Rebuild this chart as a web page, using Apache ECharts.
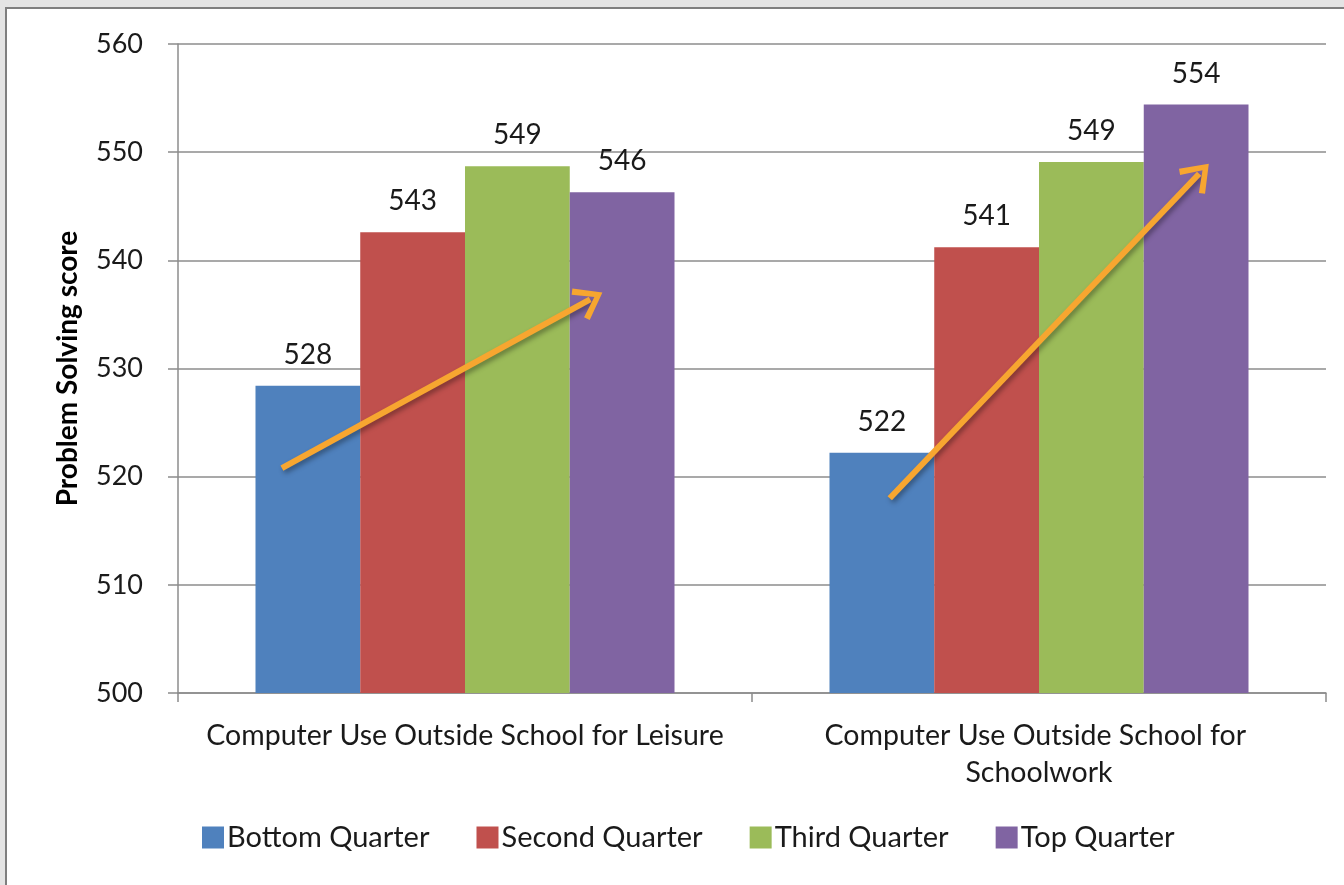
<!DOCTYPE html>
<html>
<head>
<meta charset="utf-8">
<script src="https://cdn.jsdelivr.net/npm/echarts@6/dist/echarts.min.js"></script>
<style>
  html, body { margin: 0; padding: 0; width: 1344px; height: 885px; overflow: hidden; background: #e4e4e4; }
  #frame { position: absolute; left: 5px; top: 7px; width: 1339px; height: 878px; background: #7f7f7f; }
  #chart { position: absolute; left: 7px; top: 9px; width: 1337px; height: 876px; background: #ffffff; }
</style>
</head>
<body>
<div id="frame"></div>
<div id="chart"></div>
<script>
const categories = ['Computer Use Outside School for Leisure', 'Computer Use Outside School for Schoolwork'];
const seriesNames = ['Bottom Quarter', 'Second Quarter', 'Third Quarter', 'Top Quarter'];
const bottomQuarter = [528.4, 522.2];
const secondQuarter = [542.6, 541.2];
const thirdQuarter = [548.7, 549.1];
const topQuarter = [546.3, 554.4];
const yTicks = [500, 510, 520, 530, 540, 550, 560];
// trend arrows: [start x (category units), start value], [end x, end value]
const arrowLeisure = [[0.181, 520.8], [0.718, 536.4]];
const arrowSchoolwork = [[1.240, 518.0], [1.779, 548.0]];

const colors = ['#4F81BD', '#C0504D', '#9BBB59', '#8064A2'];
const FONT = 'Lato';
const chart = echarts.init(document.getElementById('chart'));
const values = [bottomQuarter, secondQuarter, thirdQuarter, topQuarter];

const barSeries = seriesNames.map((name, i) => ({
  name: name,
  type: 'bar',
  xAxisIndex: 0,
  yAxisIndex: 0,
  data: values[i],
  barGap: '0%',
  barCategoryGap: '27%',
  itemStyle: { color: colors[i] },
  label: {
    show: true,
    position: 'top',
    distance: 17,
    color: '#1a1a1a',
    fontFamily: FONT,
    fontSize: 28,
    formatter: p => Math.round(p.value)
  },
  z: 2
}));

const chevron = 'path://M50,0 L100,80 L86,92 L50,30 L14,92 L0,80 Z';
const arrowSeries = {
  type: 'line',
  xAxisIndex: 1,
  yAxisIndex: 0,
  data: [],
  silent: true,
  z: 10,
  markLine: {
    silent: true,
    animation: false,
    symbol: ['none', chevron],
    symbolSize: [36, 28],
    label: { show: false },
    lineStyle: {
      type: 'solid',
      color: '#F7A630',
      width: 6,
      shadowColor: 'rgba(0,0,0,0.35)',
      shadowBlur: 5,
      shadowOffsetX: 2,
      shadowOffsetY: 3
    },
    itemStyle: {
      color: '#F7A630',
      shadowColor: 'rgba(0,0,0,0.35)',
      shadowBlur: 5,
      shadowOffsetX: 2,
      shadowOffsetY: 3
    },
    emphasis: { disabled: true },
    data: [
      [{ coord: arrowLeisure[0] }, { coord: arrowLeisure[1] }],
      [{ coord: arrowSchoolwork[0] }, { coord: arrowSchoolwork[1] }]
    ]
  }
};

chart.setOption({
  animation: false,
  color: colors,
  grid: { left: 171, right: 18, top: 35, bottom: 192 },
  legend: {
    data: seriesNames,
    bottom: 28,
    left: 190,
    itemWidth: 22,
    itemHeight: 22,
    itemGap: 47,
    icon: 'rect',
    textStyle: { fontFamily: FONT, fontSize: 29, color: '#1a1a1a', padding: [0, 0, 0, -2] }
  },
  xAxis: [
    {
      type: 'category',
      data: categories,
      axisLine: { lineStyle: { color: '#8c8c8c', width: 1.5 } },
      axisTick: { show: true, length: 9, lineStyle: { color: '#8c8c8c', width: 1.5 } },
      axisLabel: {
        fontFamily: FONT,
        fontSize: 28.5,
        color: '#1a1a1a',
        margin: 24,
        lineHeight: 37,
        width: 545,
        overflow: 'break',
        interval: 0
      }
    },
    { type: 'value', min: 0, max: 2, show: false }
  ],
  yAxis: {
    type: 'value',
    min: yTicks[0],
    max: yTicks[yTicks.length - 1],
    interval: 10,
    name: 'Problem Solving score',
    nameLocation: 'middle',
    nameGap: 96,
    nameTextStyle: { fontFamily: FONT, fontSize: 28, fontWeight: 'bold', color: '#000' },
    axisLine: { show: true, lineStyle: { color: '#8c8c8c', width: 1.5 } },
    axisTick: { show: true, length: 10, lineStyle: { color: '#8c8c8c', width: 1.5 } },
    axisLabel: { fontFamily: FONT, fontSize: 27, color: '#1a1a1a', margin: 35 },
    splitLine: { show: true, lineStyle: { color: '#8c8c8c', width: 1.5 } }
  },
  series: [...barSeries, arrowSeries]
});
</script>
</body>
</html>
